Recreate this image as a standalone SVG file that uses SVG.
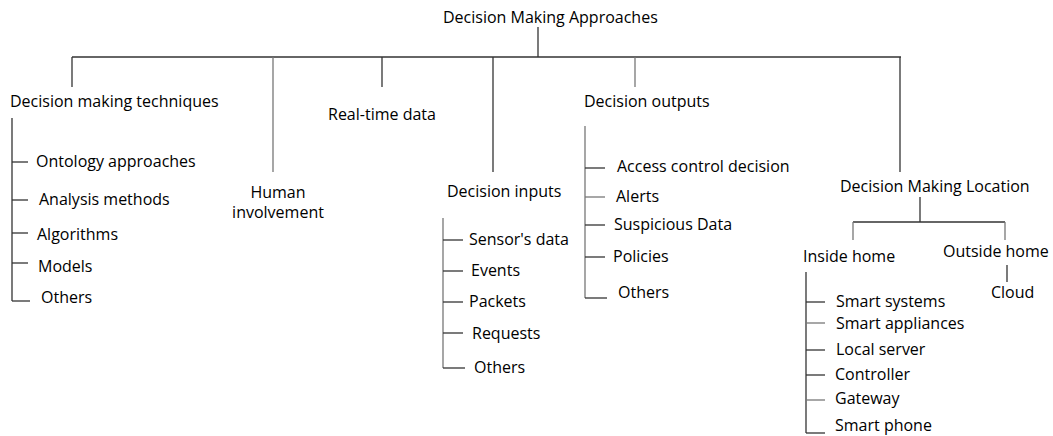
<svg xmlns="http://www.w3.org/2000/svg" width="1053" height="436" viewBox="0 0 1053 436">
<style>
text{font-family:"Open Sans","Liberation Sans",sans-serif;font-size:16px;fill:#000}
.c line{stroke:#333;stroke-width:1.3;fill:none}
.c .g{stroke:#777}
</style>
<rect width="1053" height="436" fill="#fff"/>
<g class="c" id="connectors">
<line x1="538" y1="27" x2="538" y2="57"/>
<line x1="72" y1="57" x2="901" y2="57"/>
<line x1="72" y1="57" x2="72" y2="87"/>
<line class="g" x1="273" y1="57" x2="273" y2="172"/>
<line x1="382" y1="57" x2="382" y2="87"/>
<line x1="493" y1="57" x2="493" y2="172"/>
<line class="g" x1="635" y1="57" x2="635" y2="87"/>
<line x1="900" y1="57" x2="900" y2="172"/>
<line x1="12" y1="118" x2="12" y2="301"/>
<line x1="12" y1="162" x2="28" y2="162"/>
<line x1="12" y1="200" x2="28" y2="200"/>
<line x1="12" y1="233" x2="28" y2="233"/>
<line x1="12" y1="263" x2="28" y2="263"/>
<line x1="12" y1="301" x2="30" y2="301"/>
<line class="g" x1="443" y1="218" x2="443" y2="368"/>
<line x1="443" y1="240" x2="463" y2="240"/>
<line x1="443" y1="271" x2="463" y2="271"/>
<line x1="443" y1="302" x2="463" y2="302"/>
<line x1="443" y1="333" x2="463" y2="333"/>
<line x1="443" y1="368" x2="465" y2="368"/>
<line class="g" x1="585" y1="126" x2="585" y2="298"/>
<line x1="585" y1="168" x2="605" y2="168"/>
<line class="g" x1="585" y1="197" x2="605" y2="197"/>
<line x1="585" y1="225" x2="605" y2="225"/>
<line x1="585" y1="257" x2="605" y2="257"/>
<line x1="585" y1="298" x2="607" y2="298"/>
<line x1="920" y1="197" x2="920" y2="222"/>
<line x1="853" y1="222" x2="1005" y2="222"/>
<line class="g" x1="853" y1="222" x2="853" y2="240"/>
<line class="g" x1="1005" y1="222" x2="1005" y2="240"/>
<line x1="1007" y1="265" x2="1007" y2="282"/>
<line x1="806" y1="272" x2="806" y2="433"/>
<line x1="806" y1="302" x2="825" y2="302"/>
<line class="g" x1="806" y1="323" x2="825" y2="323"/>
<line x1="806" y1="350" x2="825" y2="350"/>
<line x1="806" y1="375" x2="825" y2="375"/>
<line class="g" x1="806" y1="400" x2="825" y2="400"/>
<line x1="806" y1="433" x2="825" y2="433"/>
</g>
<g id="root"><text x="443" y="23">Decision Making Approaches</text></g>
<g id="techniques"><text x="10" y="107">Decision making techniques</text></g>
<g id="ontology"><text x="36" y="167">Ontology approaches</text></g>
<g id="analysis"><text x="39" y="205">Analysis methods</text></g>
<g id="algorithms"><text x="37" y="240">Algorithms</text></g>
<g id="models"><text x="38" y="272">Models</text></g>
<g id="others1"><text x="41" y="303">Others</text></g>
<g id="human"><text x="278" y="198" text-anchor="middle">Human</text><text x="278" y="218" text-anchor="middle">involvement</text></g>
<g id="realtime"><text x="328" y="120">Real-time data</text></g>
<g id="inputs"><text x="447" y="197">Decision inputs</text></g>
<g id="sensor"><text x="469" y="245">Sensor's data</text></g>
<g id="events"><text x="471" y="276">Events</text></g>
<g id="packets"><text x="469" y="307">Packets</text></g>
<g id="requests"><text x="472" y="339">Requests</text></g>
<g id="others2"><text x="474" y="373">Others</text></g>
<g id="outputs"><text x="584" y="107">Decision outputs</text></g>
<g id="access"><text x="617" y="172">Access control decision</text></g>
<g id="alerts"><text x="616" y="202">Alerts</text></g>
<g id="suspicious"><text x="614" y="230">Suspicious Data</text></g>
<g id="policies"><text x="613" y="262">Policies</text></g>
<g id="others3"><text x="618" y="298">Others</text></g>
<g id="location"><text x="840" y="192">Decision Making Location</text></g>
<g id="inside"><text x="803" y="262">Inside home</text></g>
<g id="outside"><text x="943" y="257">Outside home</text></g>
<g id="cloud"><text x="991" y="298">Cloud</text></g>
<g id="smartsys"><text x="836" y="307">Smart systems</text></g>
<g id="smartapp"><text x="836" y="329">Smart appliances</text></g>
<g id="local"><text x="836" y="355">Local server</text></g>
<g id="controller"><text x="835" y="380">Controller</text></g>
<g id="gateway"><text x="835" y="404">Gateway</text></g>
<g id="phone"><text x="835" y="431">Smart phone</text></g>
</svg>
